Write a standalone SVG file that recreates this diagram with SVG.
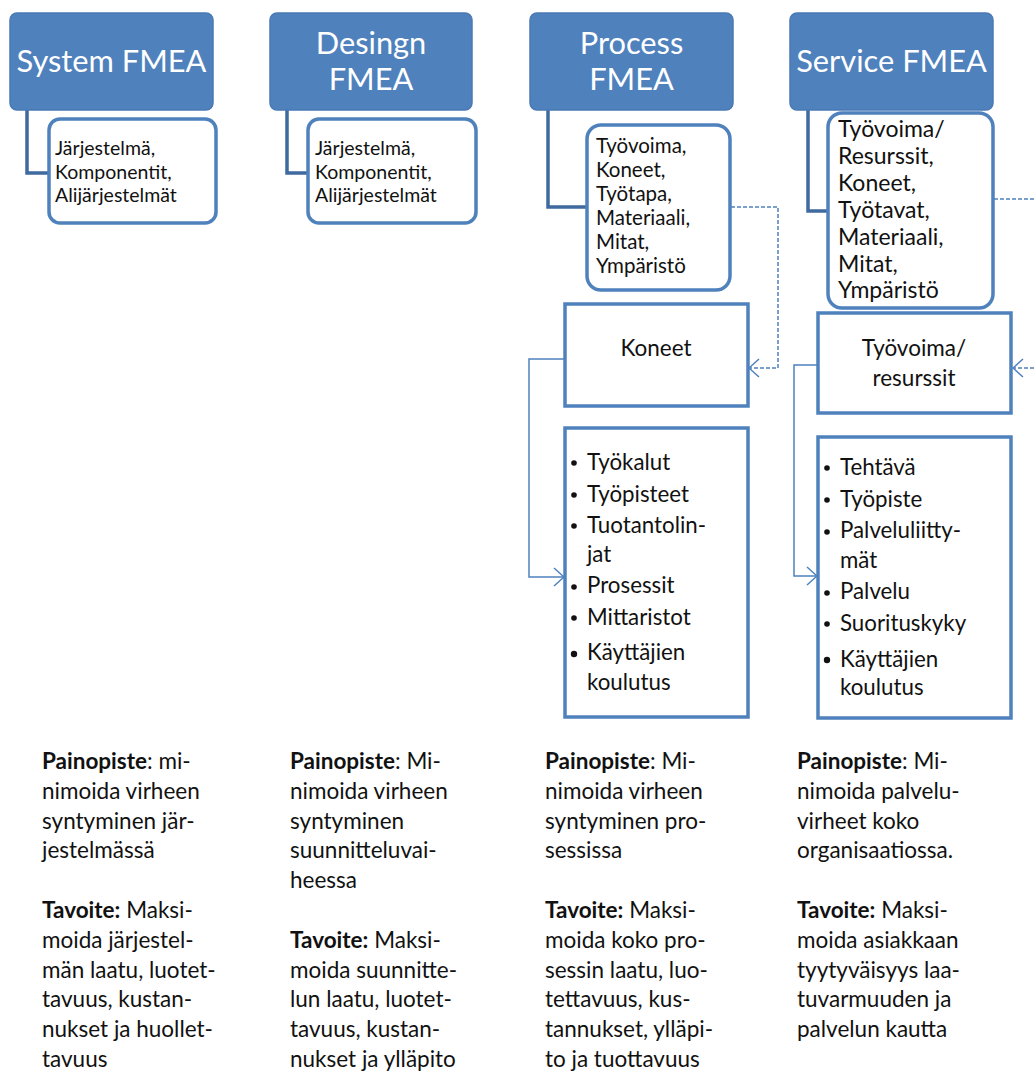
<svg xmlns="http://www.w3.org/2000/svg" width="1034" height="1073" viewBox="0 0 1034 1073">
<style>
.hdr{fill:#4F81BD;stroke:#4A7AB5;stroke-width:1.5}
.ht{font-family:Lato,"Liberation Sans",sans-serif;font-size:30.8px;fill:#fff;text-anchor:middle}
.sub{fill:#fff;stroke:#4F81BD;stroke-width:3.5}
.box{fill:#fff;stroke:#4F81BD;stroke-width:3.5}
.st{font-family:Lato,"Liberation Sans",sans-serif;font-size:19.5px;fill:#111}
.bt{font-family:Lato,"Liberation Sans",sans-serif;font-size:22.3px;fill:#111}
.ct{font-family:Lato,"Liberation Sans",sans-serif;font-size:22.5px;fill:#111;text-anchor:middle}
.tx{font-family:Lato,"Liberation Sans",sans-serif;font-size:22.5px;fill:#111}
.b{font-weight:bold}
.elb{fill:none;stroke:#3F6A9F;stroke-width:3.5}
.dash{fill:none;stroke:#4F81BD;stroke-width:1.5;stroke-dasharray:4 2}
.thin{fill:none;stroke:#4F81BD;stroke-width:1.5}
</style>
<defs>
<marker id="arr" viewBox="0 0 12 20" refX="11" refY="10" markerWidth="12" markerHeight="20" markerUnits="userSpaceOnUse" orient="auto">
<path d="M1,1 L11,10 L1,19" fill="none" stroke="#4F81BD" stroke-width="1.5"/>
</marker>
</defs>
<rect width="1034" height="1073" fill="#fff"/>
<g id="connectors">
<path class="elb" d="M27,110 V173 H49"/>
<path class="elb" d="M287,110 V173 H308"/>
<path class="elb" d="M548,110 V207 H587"/>
<path class="elb" d="M808,110 V211 H828"/>
<path class="dash" d="M731,207 H778 V368 H749" marker-end="url(#arr)"/>
<path class="dash" d="M994,199 H1034"/>
<path class="dash" d="M1034,368 H1013" marker-end="url(#arr)"/>
<path class="thin" d="M565,359 H529 V577 H564" marker-end="url(#arr)"/>
<path class="thin" d="M818,365 H794 V576 H817" marker-end="url(#arr)"/>
</g>
<g id="system-fmea">
<rect class="hdr" x="10" y="13" width="203" height="97" rx="7"/>
<text class="ht" x="111.5" y="72">System FMEA</text>
</g>
<g id="system-sub">
<rect class="sub" x="49" y="119" width="167" height="104" rx="11"/>
<text class="st" x="55"><tspan x="55" y="155">Järjestelmä,</tspan><tspan x="55" y="179">Komponentit,</tspan><tspan x="55" y="202">Alijärjestelmät</tspan></text>
</g>
<g id="design-fmea">
<rect class="hdr" x="270" y="13" width="202" height="97" rx="7"/>
<text class="ht"><tspan x="371" y="54">Desingn</tspan><tspan x="371" y="90">FMEA</tspan></text>
</g>
<g id="design-sub">
<rect class="sub" x="308" y="119" width="168" height="104" rx="11"/>
<text class="st"><tspan x="315" y="155">Järjestelmä,</tspan><tspan x="315" y="179">Komponentit,</tspan><tspan x="315" y="202">Alijärjestelmät</tspan></text>
</g>
<g id="process-fmea">
<rect class="hdr" x="530" y="13" width="203" height="97" rx="7"/>
<text class="ht"><tspan x="631.5" y="54">Process</tspan><tspan x="631.5" y="90">FMEA</tspan></text>
</g>
<g id="process-sub">
<rect class="sub" x="587" y="125" width="143" height="165" rx="14"/>
<text class="st" style="font-size:20.5px"><tspan x="596" y="153">Työvoima,</tspan><tspan x="596" y="177">Koneet,</tspan><tspan x="596" y="201">Työtapa,</tspan><tspan x="596" y="225">Materiaali,</tspan><tspan x="596" y="249">Mitat,</tspan><tspan x="596" y="273">Ympäristö</tspan></text>
</g>
<g id="service-fmea">
<rect class="hdr" x="790" y="13" width="203" height="97" rx="7"/>
<text class="ht" x="891.5" y="72">Service FMEA</text>
</g>
<g id="service-sub">
<rect class="sub" x="828" y="113" width="165" height="195" rx="14"/>
<text class="st" style="font-size:23px"><tspan x="838" y="137">Työvoima/</tspan><tspan x="838" y="164">Resurssit,</tspan><tspan x="838" y="191">Koneet,</tspan><tspan x="838" y="218">Työtavat,</tspan><tspan x="838" y="245">Materiaali,</tspan><tspan x="838" y="272">Mitat,</tspan><tspan x="838" y="298">Ympäristö</tspan></text>
</g>
<g id="koneet">
<rect class="box" x="565" y="304" width="183" height="102"/>
<text class="ct" x="656" y="356">Koneet</text>
</g>
<g id="tyovoima">
<rect class="box" x="818" y="313" width="193" height="100"/>
<text class="ct"><tspan x="914" y="356">Työvoima/</tspan><tspan x="914" y="386">resurssit</tspan></text>
</g>
<g id="process-list">
<rect class="box" x="565" y="428" width="183" height="289"/>
<g fill="#111"><circle cx="574" cy="463" r="2.8"/><circle cx="574" cy="495" r="2.8"/><circle cx="574" cy="526" r="2.8"/><circle cx="574" cy="587" r="2.8"/><circle cx="574" cy="618" r="2.8"/><circle cx="574" cy="654" r="3.2"/></g>
<text class="bt"><tspan x="587" y="470">Työkalut</tspan><tspan x="587" y="502">Työpisteet</tspan><tspan x="587" y="533">Tuotantolin-</tspan><tspan x="587" y="562">jat</tspan><tspan x="587" y="593">Prosessit</tspan><tspan x="587" y="625">Mittaristot</tspan><tspan x="587" y="660">Käyttäjien</tspan><tspan x="587" y="690">koulutus</tspan></text>
</g>
<g id="service-list">
<rect class="box" x="818" y="437" width="193" height="281"/>
<g fill="#111"><circle cx="827" cy="468" r="2.8"/><circle cx="827" cy="500" r="2.8"/><circle cx="827" cy="532" r="2.8"/><circle cx="827" cy="593" r="2.8"/><circle cx="827" cy="624" r="2.8"/><circle cx="827" cy="660" r="3.2"/></g>
<text class="bt"><tspan x="840" y="475">Tehtävä</tspan><tspan x="840" y="507">Työpiste</tspan><tspan x="840" y="538">Palveluliitty-</tspan><tspan x="840" y="568">mät</tspan><tspan x="840" y="599">Palvelu</tspan><tspan x="840" y="631">Suorituskyky</tspan><tspan x="840" y="667">Käyttäjien</tspan><tspan x="840" y="695">koulutus</tspan></text>
</g>
<g id="system-text">
<text class="tx"><tspan x="42" y="769"><tspan class="b">Painopiste</tspan>: mi-</tspan><tspan x="42" y="799">nimoida virheen</tspan><tspan x="42" y="829">syntyminen jär-</tspan><tspan x="42" y="858">jestelmässä</tspan><tspan x="42" y="918"><tspan class="b">Tavoite:</tspan> Maksi-</tspan><tspan x="42" y="948">moida järjestel-</tspan><tspan x="42" y="978">män laatu, luotet-</tspan><tspan x="42" y="1007">tavuus, kustan-</tspan><tspan x="42" y="1037">nukset ja huollet-</tspan><tspan x="42" y="1067">tavuus</tspan></text>
</g>
<g id="design-text">
<text class="tx"><tspan x="290" y="769"><tspan class="b">Painopiste</tspan>: Mi-</tspan><tspan x="290" y="799">nimoida virheen</tspan><tspan x="290" y="829">syntyminen</tspan><tspan x="290" y="858">suunnitteluvai-</tspan><tspan x="290" y="888">heessa</tspan><tspan x="290" y="948"><tspan class="b">Tavoite:</tspan> Maksi-</tspan><tspan x="290" y="978">moida suunnitte-</tspan><tspan x="290" y="1007">lun laatu, luotet-</tspan><tspan x="290" y="1037">tavuus, kustan-</tspan><tspan x="290" y="1067">nukset ja ylläpito</tspan></text>
</g>
<g id="process-text">
<text class="tx"><tspan x="545" y="769"><tspan class="b">Painopiste</tspan>: Mi-</tspan><tspan x="545" y="799">nimoida virheen</tspan><tspan x="545" y="829">syntyminen pro-</tspan><tspan x="545" y="858">sessissa</tspan><tspan x="545" y="918"><tspan class="b">Tavoite:</tspan> Maksi-</tspan><tspan x="545" y="948">moida koko pro-</tspan><tspan x="545" y="978">sessin laatu, luo-</tspan><tspan x="545" y="1007">tettavuus, kus-</tspan><tspan x="545" y="1037">tannukset, ylläpi-</tspan><tspan x="545" y="1067">to ja tuottavuus</tspan></text>
</g>
<g id="service-text">
<text class="tx"><tspan x="797" y="769"><tspan class="b">Painopiste</tspan>: Mi-</tspan><tspan x="797" y="799">nimoida palvelu-</tspan><tspan x="797" y="829">virheet koko</tspan><tspan x="797" y="858">organisaatiossa.</tspan><tspan x="797" y="918"><tspan class="b">Tavoite:</tspan> Maksi-</tspan><tspan x="797" y="948">moida asiakkaan</tspan><tspan x="797" y="978">tyytyväisyys laa-</tspan><tspan x="797" y="1007">tuvarmuuden ja</tspan><tspan x="797" y="1037">palvelun kautta</tspan></text>
</g>
</svg>
